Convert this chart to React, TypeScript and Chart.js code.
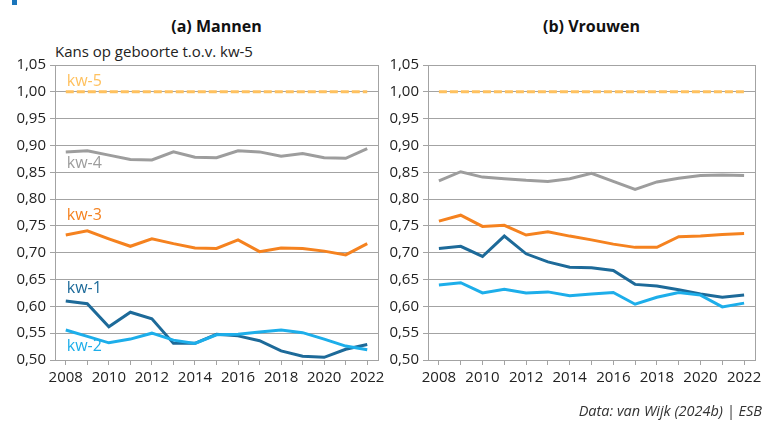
import React, { useEffect, useRef } from "react";
import { Chart, registerables } from "chart.js";

Chart.register(...registerables);

const years = ["2008", "2009", "2010", "2011", "2012", "2013", "2014", "2015", "2016", "2017", "2018", "2019", "2020", "2021", "2022"];
const yTicks = [0.5, 0.55, 0.6, 0.65, 0.7, 0.75, 0.8, 0.85, 0.9, 0.95, 1.0, 1.05];

// Mannen
const kw5M = [1.0, 1.0, 1.0, 1.0, 1.0, 1.0, 1.0, 1.0, 1.0, 1.0, 1.0, 1.0, 1.0, 1.0, 1.0];
const kw4M = [0.888, 0.89, 0.882, 0.874, 0.873, 0.888, 0.878, 0.877, 0.89, 0.888, 0.88, 0.885, 0.877, 0.876, 0.894];
const kw3M = [0.733, 0.741, 0.726, 0.712, 0.726, 0.717, 0.709, 0.708, 0.724, 0.702, 0.709, 0.708, 0.703, 0.696, 0.717];
const kw1M = [0.61, 0.605, 0.562, 0.589, 0.577, 0.531, 0.531, 0.548, 0.545, 0.536, 0.517, 0.507, 0.505, 0.52, 0.529];
const kw2M = [0.556, 0.544, 0.532, 0.539, 0.55, 0.537, 0.531, 0.547, 0.548, 0.552, 0.556, 0.551, 0.539, 0.526, 0.519];

// Vrouwen
const kw5V = [1.0, 1.0, 1.0, 1.0, 1.0, 1.0, 1.0, 1.0, 1.0, 1.0, 1.0, 1.0, 1.0, 1.0, 1.0];
const kw4V = [0.834, 0.851, 0.841, 0.838, 0.835, 0.833, 0.838, 0.848, 0.833, 0.818, 0.832, 0.839, 0.844, 0.845, 0.844];
const kw3V = [0.759, 0.77, 0.749, 0.751, 0.733, 0.739, 0.731, 0.724, 0.716, 0.71, 0.71, 0.73, 0.731, 0.734, 0.736];
const kw1V = [0.708, 0.712, 0.693, 0.731, 0.698, 0.683, 0.673, 0.672, 0.667, 0.641, 0.638, 0.631, 0.623, 0.617, 0.621];
const kw2V = [0.64, 0.644, 0.625, 0.632, 0.625, 0.627, 0.62, 0.623, 0.626, 0.604, 0.617, 0.626, 0.621, 0.599, 0.606];

const seriesNames = ["kw-5", "kw-4", "kw-3", "kw-1", "kw-2"];
const seriesColors = ["#FFC15E", "#9D9D9D", "#F5821F", "#1D6A99", "#1DAEEA"];
// vertical position (value units) of the in-chart series labels
const labelValues = [1.02, 0.867, 0.77, 0.633, 0.526];

const FONT = "'Open Sans', sans-serif";

function buildDatasets(values: number[][]) {
  return values.map((v, i) => ({
    label: seriesNames[i],
    data: v,
    borderColor: seriesColors[i],
    backgroundColor: seriesColors[i],
    borderWidth: 3,
    borderDash: i === 0 ? [8, 3] : [],
    pointRadius: 0,
    tension: 0,
    fill: false,
    order: i === 0 ? 5 : 4 - i,
  }));
}

const frameLine = {
  id: "frameLine",
  afterDraw(chart: any) {
    const { ctx, chartArea } = chart;
    ctx.save();
    ctx.strokeStyle = "#A3A3A3";
    ctx.lineWidth = 1;
    ctx.beginPath();
    ctx.moveTo(Math.round(chartArea.right) + 0.5, chartArea.top);
    ctx.lineTo(Math.round(chartArea.right) + 0.5, chartArea.bottom);
    ctx.stroke();
    ctx.restore();
  },
};

const seriesLabels = {
  id: "seriesLabels",
  afterDatasetsDraw(chart: any, _args: any, opts: any) {
    if (!opts || !opts.show) return;
    const { ctx } = chart;
    const xs = chart.scales.x;
    const ys = chart.scales.y;
    ctx.save();
    ctx.font = "16px " + FONT;
    ctx.textAlign = "left";
    ctx.textBaseline = "middle";
    seriesNames.forEach((name, i) => {
      ctx.fillStyle = seriesColors[i];
      ctx.fillText(name, xs.getPixelForValue(0) + 1, ys.getPixelForValue(labelValues[i]));
    });
    ctx.restore();
  },
};

type PanelProps = {
  values: number[][];
  left: number;
  width: number;
  yWidth: number;
  padRight: number;
  showLabels: boolean;
};

function Panel({ values, left, width, yWidth, padRight, showLabels }: PanelProps) {
  const ref = useRef<HTMLCanvasElement | null>(null);
  useEffect(() => {
    if (!ref.current) return;
    const chart = new Chart(ref.current, {
      type: "line",
      data: { labels: years, datasets: buildDatasets(values) as any },
      options: {
        animation: false,
        responsive: false,
        maintainAspectRatio: false,
        layout: { padding: { left: 0, top: 65, right: padRight, bottom: 31 } },
        plugins: {
          legend: { display: false },
          tooltip: { enabled: false },
          title: { display: false },
          seriesLabels: { show: showLabels },
        } as any,
        scales: {
          x: {
            type: "category",
            offset: true,
            grid: {
              display: true,
              drawOnChartArea: false,
              drawTicks: true,
              tickLength: 5,
              offset: false,
              color: "#A3A3A3",
            },
            border: { display: true, color: "#A3A3A3", width: 1 },
            ticks: {
              autoSkip: false,
              maxRotation: 0,
              minRotation: 0,
              padding: 4,
              color: "#222",
              font: { family: FONT, size: 15 },
              callback: (_v: any, idx: number) => (idx % 2 === 0 ? years[idx] : ""),
            },
            afterFit: (s: any) => {
              s.height = 30;
              s.paddingLeft = 0;
              s.paddingRight = 0;
            },
          },
          y: {
            type: "linear",
            min: yTicks[0],
            max: yTicks[yTicks.length - 1],
            grid: { color: "#A3A3A3", lineWidth: 1, tickLength: 5, drawTicks: true },
            border: { display: true, color: "#A3A3A3", width: 1 },
            afterBuildTicks: (s: any) => {
              s.ticks = yTicks.map((v) => ({ value: v }));
            },
            ticks: {
              padding: 4,
              color: "#222",
              font: { family: FONT, size: 15 },
              callback: (v: any) => Number(v).toFixed(2).replace(".", ","),
            },
            afterFit: (s: any) => {
              s.width = yWidth;
              s.paddingTop = 0;
              s.paddingBottom = 0;
            },
          },
        },
      },
      plugins: [frameLine, seriesLabels],
    });
    return () => chart.destroy();
  }, []);
  return (
    <canvas
      ref={ref}
      width={width}
      height={421}
      style={{ position: "absolute", left, top: 0, width, height: 421 }}
    />
  );
}

export default function App() {
  return (
    <div
      style={{
        position: "absolute",
        left: 0,
        top: 0,
        width: 764,
        height: 421,
        background: "#fff",
        overflow: "hidden",
        fontFamily: FONT,
      }}
    >
      <div style={{ position: "absolute", left: 12, top: 0, width: 5, height: 5, background: "#1B75BB" }} />
      <div
        style={{
          position: "absolute",
          left: 55,
          width: 323,
          top: 15,
          textAlign: "center",
          fontWeight: 700,
          fontSize: 16,
          lineHeight: "22px",
          color: "#111",
        }}
      >
        (a) Mannen
      </div>
      <div
        style={{
          position: "absolute",
          left: 428,
          width: 327,
          top: 15,
          textAlign: "center",
          fontWeight: 700,
          fontSize: 16,
          lineHeight: "22px",
          color: "#111",
        }}
      >
        (b) Vrouwen
      </div>
      <div
        style={{
          position: "absolute",
          left: 55,
          top: 40,
          fontSize: 15,
          lineHeight: "22px",
          color: "#222",
          whiteSpace: "nowrap",
        }}
      >
        Kans op geboorte t.o.v. kw-5
      </div>
      <Panel values={[kw5M, kw4M, kw3M, kw1M, kw2M]} left={0} width={400} yWidth={55} padRight={22} showLabels={true} />
      <Panel values={[kw5V, kw4V, kw3V, kw1V, kw2V]} left={380} width={384} yWidth={48} padRight={9} showLabels={false} />
      <div
        style={{
          position: "absolute",
          right: 2,
          top: 400,
          fontSize: 14.5,
          fontStyle: "italic",
          lineHeight: "22px",
          color: "#333",
          whiteSpace: "nowrap",
        }}
      >
        Data: van Wijk (2024b) | ESB
      </div>
    </div>
  );
}
